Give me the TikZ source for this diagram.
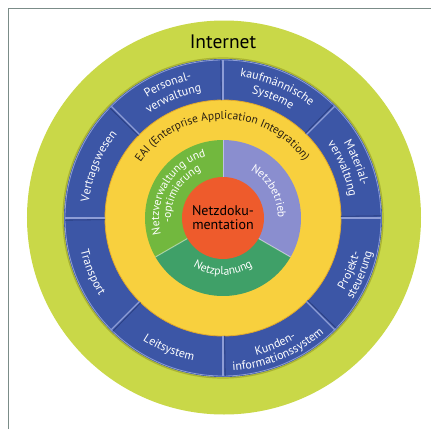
\documentclass[tikz,border=0pt]{standalone}
\usepackage{fontspec}
\setmainfont{PT Sans}
\usetikzlibrary{decorations.text}
\definecolor{ringgreen}{HTML}{C9D848}
\definecolor{ringgreendark}{HTML}{A9B232}
\definecolor{ringblue}{HTML}{3C56A6}
\definecolor{ringbluelight}{HTML}{8E9DD6}
\definecolor{ringbluedark}{HTML}{2B3F82}
\definecolor{ringyellow}{HTML}{F8D03E}
\definecolor{ringyellowdark}{HTML}{E2A92C}
\definecolor{secgreen}{HTML}{72B83E}
\definecolor{secpurple}{HTML}{8A8ECF}
\definecolor{secteal}{HTML}{3FA068}
\definecolor{coreorange}{HTML}{EE5B2C}
\definecolor{framegray}{HTML}{7B8C88}
\definecolor{eaitext}{HTML}{2A2012}
\newcommand\bluelab{\fontsize{12}{14}\selectfont\color{white}}
\newcommand\innerlab{\fontsize{11.5}{13}\selectfont\color{white}}
\newcommand\eailab{\fontsize{11.5}{13}\selectfont\color{eaitext}}
\newcommand\UpArc[4]{\path[decorate,decoration={text along path,text align=center,text={|#3|#4}}] ({#1+85}:#2pt) arc[start angle={#1+85},end angle={#1-85},radius=#2pt];}
\newcommand\DnArc[4]{\path[decorate,decoration={text along path,text align=center,text={|#3|#4}}] ({#1-85}:#2pt) arc[start angle={#1-85},end angle={#1+85},radius=#2pt];}
\tikzset{
  framestyle/.style={draw=framegray,line width=1.2pt},
  bluesep/.style={draw=ringbluelight,line width=1.1pt},
  innersep/.style={draw=white,draw opacity=0.45,line width=1pt},
}
\begin{document}
\begin{tikzpicture}
\useasboundingbox (-223pt,-211pt) rectangle (208pt,218pt);
% frame
\coordinate (fbl) at (-214.5pt,-211pt);
\coordinate (ftl) at (-214.5pt,209.5pt);
\coordinate (ftr) at (208pt,209.5pt);
\draw[framestyle] (fbl) -- (ftl) -- (ftr);
% rings
\fill[ringgreen] (1pt,0.5pt) circle[radius=197pt];
\draw[ringgreendark,line width=1.2pt] (0,0) circle[radius=160pt];
\fill[ringblue] (0,0) circle[radius=159pt];
\draw[ringbluelight,line width=0.8pt] (0,0) circle[radius=158pt];
\fill[ringyellow] (0,0) circle[radius=118pt];
\draw[ringyellowdark,line width=0.8pt] (0,0) circle[radius=118pt];
% blue separators
\foreach \a in {0,45,...,315}{
  \draw[ringbluedark,line width=0.8pt] (\a+0.8:118pt) -- (\a+0.8:158pt);
  \draw[bluesep] (\a:118pt) -- (\a:158pt);
}
% inner sectors
\fill[secgreen] (0,0) -- (90:78pt) arc[start angle=90,end angle=210,radius=78pt] -- cycle;
\fill[secteal] (0,0) -- (210:78pt) arc[start angle=210,end angle=330,radius=78pt] -- cycle;
\fill[secpurple] (0,0) -- (330:78pt) arc[start angle=330,end angle=450,radius=78pt] -- cycle;
\foreach \a in {90,210,330}{
  \draw[innersep] (\a:41pt) -- (\a:78pt);
}
\fill[coreorange] (0,0) circle[radius=41pt];
% texts
\node[font=\fontsize{19.5}{22}\selectfont,text=black] (internet) at (0,176pt) {Internet};
\node[font=\fontsize{14}{15}\selectfont,text=black,align=center] (core) at (0,0) {Netzdoku-\\[-1pt]mentation};
% blue ring labels
\UpArc{112.5}{142}{\bluelab}{Personal-}
\UpArc{112.5}{128}{\bluelab}{verwaltung}
\UpArc{67.5}{142}{\bluelab}{kaufmännische}
\UpArc{67.5}{128}{\bluelab}{Systeme}
\UpArc{22.5}{142}{\bluelab}{Material-}
\UpArc{22.5}{128}{\bluelab}{verwaltung}
\UpArc{157.5}{135}{\bluelab}{Vertragswesen}
\DnArc{-22.5}{141}{\bluelab}{Projekt-}
\DnArc{-22.5}{153}{\bluelab}{steuerung}
\DnArc{-67.5}{141}{\bluelab}{Kunden-}
\DnArc{-67.5}{153}{\bluelab}{informationssystem}
\DnArc{-112.5}{146}{\bluelab}{Leitsystem}
\DnArc{-157.5}{146}{\bluelab}{Transport}
% yellow ring
\UpArc{90.5}{99}{\eailab}{EAI (Enterprise Application Integration)}
% inner ring labels
\UpArc{150}{64}{\innerlab}{Netzverwaltung und}
\UpArc{150}{52}{\innerlab}{-optimierung}
\UpArc{30}{55}{\innerlab}{Netzbetrieb}
\DnArc{-90}{57}{\innerlab}{Netzplanung}
\end{tikzpicture}
\end{document}
